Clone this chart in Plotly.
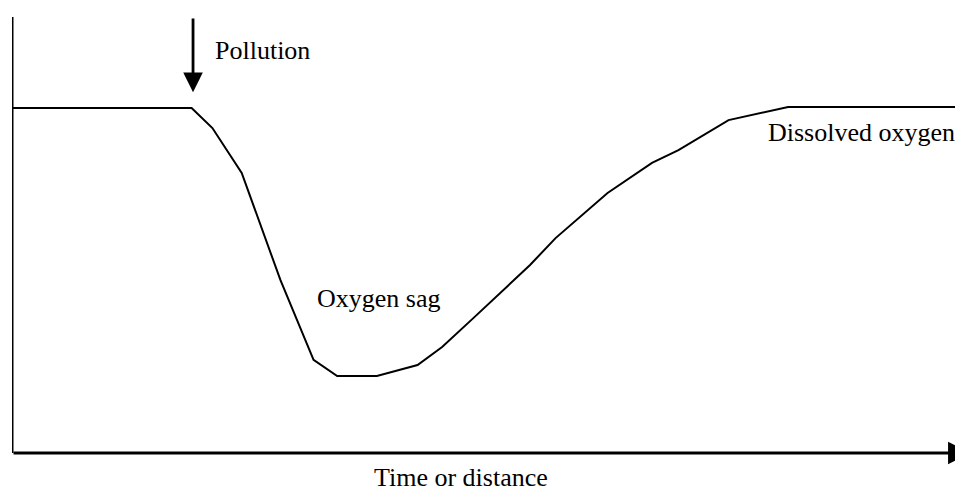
import plotly.graph_objects as go

# Dissolved oxygen sag curve (x: time/distance units 0-100, y: DO units, 100 = saturation)
x_vals = [0, 19.0, 21.2, 24.3, 28.4, 31.9, 34.4, 38.6, 42.9, 45.5, 48.8, 51.6,
          54.8, 57.5, 63.0, 67.7, 70.5, 75.8, 82.1, 100.6]
y_vals = [100, 100, 94.2, 81.2, 50.1, 27.0, 22.3, 22.3, 25.5, 30.7, 39.1, 46.4,
          54.5, 62.3, 75.4, 84.1, 87.8, 96.5, 100.3, 100.3]

x_max = 100.6
x_arrow_tip = 101.4
y_max = 126.4
pollution_x = 19.15
pollution_tip_y = 104.6

labels = {
    "pollution": "Pollution",
    "sag": "Oxygen sag",
    "do": "Dissolved oxygen",
    "xaxis": "Time or distance",
}

FONT = dict(family="Liberation Serif, Times New Roman, serif", size=26, color="black")

fig = go.Figure()
fig.add_trace(go.Scatter(x=x_vals, y=y_vals, mode="lines",
                         line=dict(color="black", width=2), showlegend=False,
                         hoverinfo="skip"))

# Y axis line
fig.add_shape(type="line", x0=0, x1=0, y0=0, y1=y_max, xref="x", yref="y",
              line=dict(color="black", width=3))

annotations = [
    # X axis with arrow (tip runs off the right edge, as in the original)
    dict(x=x_arrow_tip, y=0, ax=0, ay=0, xref="x", yref="y", axref="x", ayref="y",
         text="", showarrow=True, arrowhead=2, arrowsize=1.5, arrowwidth=3,
         arrowcolor="black"),
    # Pollution arrow
    dict(x=pollution_x, y=pollution_tip_y, ax=pollution_x, ay=y_max,
         xref="x", yref="y", axref="x", ayref="y",
         text="", showarrow=True, arrowhead=2, arrowsize=1.4, arrowwidth=2.8,
         arrowcolor="black"),
    dict(x=21.3, y=116.8, xref="x", yref="y", text=labels["pollution"],
         showarrow=False, xanchor="left", yanchor="middle", font=FONT),
    dict(x=32.1, y=44.9, xref="x", yref="y", text=labels["sag"],
         showarrow=False, xanchor="left", yanchor="middle", font=FONT),
    dict(x=100.0, y=93.0, xref="x", yref="y", text=labels["do"],
         showarrow=False, xanchor="right", yanchor="middle", font=FONT),
    dict(x=47.5, y=-0.056, xref="x", yref="paper", text=labels["xaxis"],
         showarrow=False, xanchor="center", yanchor="middle", font=FONT),
]

# Page body has an 8px default margin, so the figure is sized/offset to compensate.
fig.update_layout(
    width=955, height=483,
    margin=dict(l=4, r=0, t=9, b=38),
    paper_bgcolor="white", plot_bgcolor="white",
    xaxis=dict(range=[0, x_max], visible=False, fixedrange=True),
    yaxis=dict(range=[0, y_max], visible=False, fixedrange=True),
    annotations=annotations,
    showlegend=False,
)

fig.write_html("out.html")
